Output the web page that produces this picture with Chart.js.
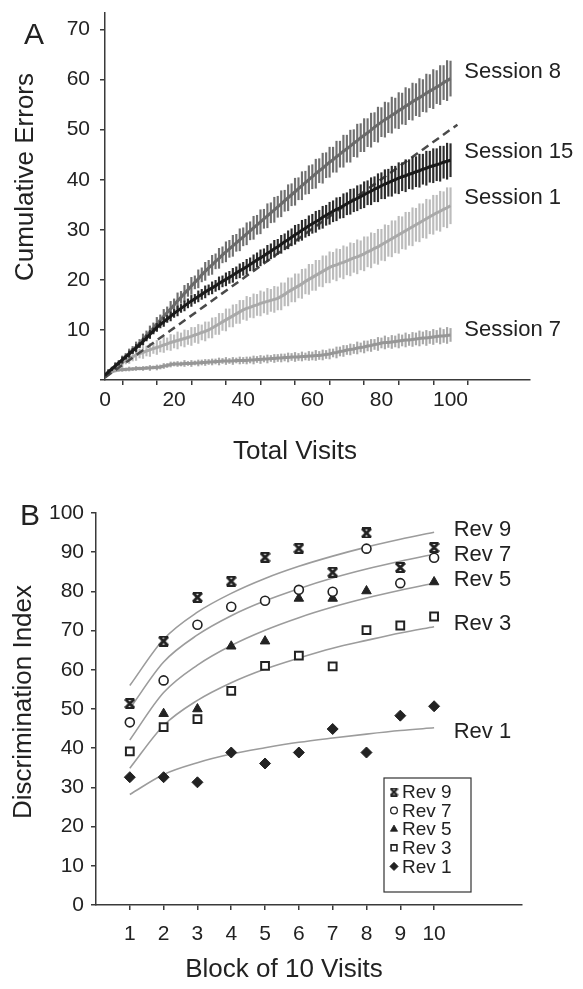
<!DOCTYPE html>
<html><head><meta charset="utf-8">
<script src="https://cdn.jsdelivr.net/npm/chart.js@4.4.1/dist/chart.umd.min.js"></script>
<style>
html,body{margin:0;padding:0;background:#fff;}
#wrap{position:relative;width:583px;height:989px;overflow:hidden;background:#fff}
#cA{position:absolute;left:0;top:0;width:583px;height:480px}
#cB{position:absolute;left:0;top:480px;width:583px;height:509px}
</style></head><body>
<div id="wrap"><canvas id="cA" width="583" height="480"></canvas><canvas id="cB" width="583" height="509"></canvas></div>
<script>
// ---------- Panel A data ----------
const visits = [0,1,2,3,4,5,6,7,8,9,10,11,12,13,14,15,16,17,18,19,20,21,22,23,24,25,26,27,28,29,30,31,32,33,34,35,36,37,38,39,40,41,42,43,44,45,46,47,48,49,50,51,52,53,54,55,56,57,58,59,60,61,62,63,64,65,66,67,68,69,70,71,72,73,74,75,76,77,78,79,80,81,82,83,84,85,86,87,88,89,90,91,92,93,94,95,96,97,98,99,100];
const xTicksA = [0,10,20,30,40,50,60,70,80,90,100];
const xTickLabelsA = [0,20,40,60,80,100];
const yTicksA = [0,10,20,30,40,50,60,70];
const yTickLabelsA = [10,20,30,40,50,60,70];

const s8Mean = [1.0,1.6,2.2,2.8,3.4,4.0,4.7,5.3,6.0,6.6,7.3,
8.1,8.9,9.6,10.4,11.2,12.0,12.7,13.5,14.2,15.0,
15.8,16.5,17.3,18.0,18.8,19.5,20.2,21.0,21.7,22.4,
23.0,23.7,24.3,25.0,25.6,26.2,26.8,27.4,28.0,28.6,
29.2,29.8,30.4,31.0,31.6,32.2,32.8,33.4,34.0,34.6,
35.2,35.8,36.4,37.0,37.6,38.2,38.8,39.4,40.0,40.6,
41.2,41.8,42.3,42.9,43.5,44.0,44.6,45.1,45.7,46.2,
46.7,47.3,47.8,48.4,48.9,49.4,49.9,50.5,51.0,51.5,
52.0,52.4,52.9,53.3,53.8,54.2,54.7,55.1,55.6,56.0,
56.4,56.8,57.3,57.7,58.1,58.5,58.9,59.4,59.8,60.2];
const s8Err = [0.2,0.5,0.4,0.7,0.5,0.8,0.6,0.9,0.7,1.0,0.8,
1.1,0.9,1.2,1.0,1.3,1.0,1.4,1.1,1.5,1.2,
1.6,1.2,1.6,1.3,1.7,1.3,1.8,1.4,1.8,1.5,
1.9,1.5,2.0,1.6,2.0,1.7,2.1,1.7,2.2,1.8,
2.2,1.8,2.3,1.9,2.4,1.9,2.4,2.0,2.5,2.1,
2.6,2.1,2.6,2.2,2.7,2.2,2.8,2.3,2.8,2.4,
2.9,2.4,3.0,2.5,3.0,2.5,3.1,2.6,3.2,2.7,
3.2,2.7,3.3,2.8,3.3,2.8,3.4,2.9,3.5,2.9,
3.5,3.0,3.6,3.0,3.6,3.1,3.7,3.1,3.7,3.2,
3.8,3.2,3.8,3.3,3.9,3.3,3.9,3.4,4.0,3.5];

const s15Mean = [1.0,1.6,2.2,2.8,3.4,4.0,4.6,5.2,5.8,6.4,7.0,
7.7,8.4,9.1,9.8,10.5,11.1,11.6,12.2,12.7,13.3,
13.8,14.3,14.8,15.3,15.8,16.2,16.7,17.1,17.6,18.0,
18.4,18.8,19.3,19.7,20.1,20.5,20.9,21.4,21.8,22.2,
22.6,23.1,23.5,24.0,24.4,24.8,25.3,25.7,26.2,26.6,
27.1,27.6,28.0,28.5,29.0,29.4,29.9,30.3,30.8,31.2,
31.6,32.0,32.5,32.9,33.3,33.7,34.1,34.4,34.8,35.2,
35.6,35.9,36.3,36.6,37.0,37.4,37.7,38.1,38.4,38.8,
39.1,39.4,39.7,40.0,40.3,40.6,40.8,41.1,41.3,41.6,
41.8,42.1,42.3,42.6,42.8,43.0,43.2,43.5,43.7,43.9];
const s15Err = [0.2,0.4,0.3,0.5,0.4,0.6,0.4,0.6,0.5,0.7,0.5,
0.7,0.6,0.8,0.6,0.8,0.7,0.9,0.7,0.9,0.8,
1.0,0.8,1.0,0.9,1.1,0.9,1.1,1.0,1.2,1.0,
1.2,1.1,1.3,1.1,1.3,1.2,1.4,1.2,1.4,1.3,
1.5,1.3,1.5,1.4,1.6,1.4,1.6,1.5,1.7,1.5,
1.8,1.6,1.8,1.7,1.9,1.7,2.0,1.8,2.0,1.9,
2.1,1.9,2.2,2.0,2.2,2.1,2.3,2.1,2.4,2.2,
2.5,2.3,2.5,2.4,2.6,2.4,2.7,2.5,2.8,2.6,
2.9,2.7,3.0,2.7,3.1,2.8,3.2,2.9,3.2,3.0,
3.3,3.0,3.4,3.1,3.4,3.2,3.5,3.2,3.6,3.3];

const s1Mean = [1.0,1.5,2.0,2.5,3.0,3.5,3.9,4.3,4.6,5.0,5.3,
5.5,5.8,6.0,6.3,6.5,6.7,7.0,7.2,7.5,7.7,
7.9,8.1,8.3,8.5,8.7,9.0,9.2,9.5,9.7,10.0,
10.4,10.8,11.2,11.6,12.0,12.4,12.8,13.2,13.6,14.0,
14.3,14.5,14.8,15.0,15.3,15.5,15.7,15.9,16.1,16.3,
16.7,17.1,17.6,18.0,18.4,18.8,19.2,19.7,20.1,20.5,
20.9,21.3,21.7,22.1,22.5,22.8,23.0,23.3,23.5,23.8,
24.1,24.4,24.6,24.9,25.2,25.6,25.9,26.3,26.6,27.0,
27.4,27.8,28.2,28.6,29.0,29.4,29.8,30.2,30.6,31.0,
31.4,31.8,32.2,32.6,33.0,33.4,33.7,34.1,34.4,34.8];
const s1Err = [0.2,0.5,0.4,0.7,0.6,0.9,0.7,1.0,0.8,1.1,0.9,
1.2,1.0,1.3,1.0,1.4,1.1,1.5,1.2,1.6,1.3,
1.7,1.3,1.7,1.4,1.8,1.5,1.9,1.5,1.9,1.6,
2.0,1.7,2.1,1.7,2.2,1.8,2.2,1.9,2.3,1.9,
2.4,2.0,2.4,2.1,2.5,2.1,2.6,2.2,2.6,2.3,
2.7,2.3,2.8,2.4,2.8,2.4,2.9,2.5,3.0,2.6,
3.0,2.6,3.1,2.7,3.1,2.7,3.2,2.8,3.3,2.8,
3.3,2.9,3.4,2.9,3.4,3.0,3.5,3.0,3.5,3.1,
3.6,3.1,3.6,3.2,3.7,3.2,3.7,3.3,3.8,3.3,
3.8,3.4,3.9,3.4,3.9,3.5,4.0,3.5,4.0,3.6];

const s7Mean = [1.0,1.3,1.6,1.9,2.0,2.1,2.1,2.2,2.2,2.3,2.3,
2.3,2.4,2.4,2.5,2.5,2.6,2.8,2.9,3.1,3.2,
3.2,3.2,3.3,3.3,3.3,3.4,3.4,3.5,3.5,3.6,
3.6,3.7,3.7,3.8,3.8,3.8,3.8,3.9,3.9,3.9,
3.9,4.0,4.0,4.1,4.1,4.2,4.2,4.3,4.3,4.4,
4.4,4.5,4.5,4.6,4.6,4.6,4.7,4.7,4.8,4.8,
4.9,4.9,5.0,5.1,5.2,5.4,5.5,5.7,5.8,6.0,
6.1,6.2,6.4,6.5,6.6,6.8,6.9,7.1,7.2,7.4,
7.5,7.5,7.6,7.7,7.8,7.9,8.0,8.0,8.1,8.2,
8.3,8.4,8.4,8.5,8.6,8.7,8.8,8.8,8.9,9.0];
const s7Err = [0.1,0.3,0.2,0.3,0.2,0.4,0.3,0.4,0.3,0.4,0.3,
0.4,0.3,0.5,0.3,0.5,0.4,0.5,0.4,0.5,0.4,
0.5,0.4,0.6,0.4,0.6,0.4,0.6,0.5,0.6,0.5,
0.6,0.5,0.7,0.5,0.7,0.5,0.7,0.5,0.7,0.6,
0.7,0.6,0.8,0.6,0.8,0.6,0.8,0.6,0.8,0.7,
0.8,0.7,0.9,0.7,0.9,0.7,0.9,0.7,0.9,0.8,
1.0,0.8,1.0,0.8,1.0,0.8,1.1,0.9,1.1,0.9,
1.1,0.9,1.2,0.9,1.2,1.0,1.2,1.0,1.3,1.0,
1.3,1.0,1.3,1.1,1.4,1.1,1.4,1.1,1.4,1.2,
1.5,1.2,1.5,1.2,1.5,1.2,1.6,1.3,1.6,1.3];

const chanceX = [0, 102];
const chanceY = [0.5, 51];

const sessionNames = ['Session 8','Session 15','Session 1','Session 7'];
const sessionLabelY = [61.5, 45.5, 36.3, 10.0];
const sessionLabelX = 104;

// ---------- Panel B data ----------
const blocks = [1,2,3,4,5,6,7,8,9,10];
const yTicksB = [0,10,20,30,40,50,60,70,80,90,100];
const revNames = ['Rev 9','Rev 7','Rev 5','Rev 3','Rev 1'];
const rev9 = [51.4, 67.3, 78.5, 82.6, 88.7, 91.0, 84.9, 94.9, 86.1, 91.2];
const rev7 = [46.6, 57.3, 71.5, 76.1, 77.6, 80.4, 79.9, 90.9, 82.1, 88.6];
const rev5 = [null, 48.8, 50.0, 66.0, 67.3, 78.2, 78.2, 80.1, null, 82.4];
const rev3 = [39.2, 45.4, 47.4, 54.6, 61.0, 63.6, 60.9, 70.1, 71.3, 73.6];
const rev1 = [32.6, 32.6, 31.3, 38.9, 36.1, 38.9, 44.9, 38.9, 48.3, 50.7];
const fit9 = [56.0, 67.8, 74.7, 79.5, 83.3, 86.4, 89.0, 91.3, 93.3, 95.1];
const fit7 = [50.1, 62.0, 68.9, 73.8, 77.6, 80.7, 83.4, 85.7, 87.7, 89.5];
const fit5 = [42.1, 54.2, 61.2, 66.2, 70.1, 73.3, 76.0, 78.3, 80.3, 82.1];
const fit3 = [34.9, 45.8, 52.2, 56.7, 60.2, 63.0, 65.5, 67.5, 69.4, 71.0];
const fit1 = [28.2, 33.3, 36.3, 38.5, 40.1, 41.5, 42.6, 43.6, 44.5, 45.2];
const revLabelY = [95.7, 89.3, 82.9, 71.6, 44.1];
const revLabelX = 10.58;

// ---------- helpers ----------
const FONT = '"Liberation Sans", Arial, Helvetica, sans-serif';
const INK = '#222';
const AX = '#3a3a3a';
const pts = (xs, ys) => ys.map((v, i) => ({x: xs[i], y: v}));
const bars = (mean, err) => mean.map((m, i) => ({x: visits[i], y: [m - err[i], m + err[i]]}));

function lineDS(label, mean, color, order) {
  return {type:'line', label, data: pts(visits, mean), borderColor: color, borderWidth: 3,
    pointRadius: 0, tension: 0, order};
}
function barDS(label, mean, err, color, order) {
  return {type:'bar', label, data: bars(mean, err), backgroundColor: color, borderWidth: 0,
    barThickness: 1.5, grouped: false, order};
}
function makeHourglass(size) {
  const c = document.createElement('canvas');
  c.width = size; c.height = size;
  const g = c.getContext('2d');
  g.strokeStyle = '#222'; g.lineCap = 'butt';
  g.lineWidth = size * 0.26;
  g.beginPath(); g.moveTo(1, 1); g.lineTo(size - 1, size - 1);
  g.moveTo(size - 1, 1); g.lineTo(1, size - 1); g.stroke();
  g.lineWidth = size * 0.18;
  g.beginPath(); g.moveTo(1, size * 0.1); g.lineTo(size - 1, size * 0.1);
  g.moveTo(1, size * 0.9); g.lineTo(size - 1, size * 0.9); g.stroke();
  return c;
}
const hourglass = makeHourglass(11);
const hourglassSmall = makeHourglass(9);

// ---------- Panel A ----------
const textA = {
  id: 'textA',
  afterDraw(chart) {
    const ctx = chart.ctx, xs = chart.scales.x, ys = chart.scales.y;
    ctx.save();
    ctx.fillStyle = INK; ctx.textBaseline = 'middle'; ctx.textAlign = 'center';
    ctx.font = '30px ' + FONT; ctx.fillText('A', 34, 36);
    ctx.font = '26px ' + FONT; ctx.fillText('Total Visits', 295, 452);
    ctx.save(); ctx.translate(26, 177); ctx.rotate(-Math.PI / 2);
    ctx.fillText('Cumulative Errors', 0, 0); ctx.restore();
    ctx.font = '22px ' + FONT; ctx.textAlign = 'left';
    sessionNames.forEach((n, i) => ctx.fillText(n, xs.getPixelForValue(sessionLabelX), ys.getPixelForValue(sessionLabelY[i])));
    ctx.restore();
  }
};

new Chart(document.getElementById('cA'), {
  type: 'line',
  data: { datasets: [
    lineDS('Session 15', s15Mean, '#1a1a1a', 0),
    barDS('Session 15 SEM', s15Mean, s15Err, '#2c2c2c', 1),
    {type:'line', label:'Chance', data: pts(chanceX, chanceY), borderColor:'#4a4a4a', borderWidth:2.5,
      borderDash:[8,5], pointRadius:0, order:2},
    lineDS('Session 8', s8Mean, '#6a6a6a', 3),
    barDS('Session 8 SEM', s8Mean, s8Err, '#707070', 4),
    lineDS('Session 1', s1Mean, '#a9a9a9', 5),
    barDS('Session 1 SEM', s1Mean, s1Err, '#bcbcbc', 6),
    lineDS('Session 7', s7Mean, '#969696', 7),
    barDS('Session 7 SEM', s7Mean, s7Err, '#a8a8a8', 8)
  ]},
  options: {
    responsive: false, animation: false, devicePixelRatio: 1,
    layout: { padding: { top: 13, right: 53, left: 0, bottom: 0 } },
    plugins: { legend: { display: false }, tooltip: { enabled: false } },
    scales: {
      x: {
        type: 'linear', min: 0, max: 123, offset: false,
        afterFit(s) { s.height = 100; },
        afterBuildTicks(s) { s.ticks = xTicksA.map(v => ({value: v})); },
        ticks: { autoSkip: false, maxRotation: 0, color: INK, padding: 3,
          font: { family: FONT, size: 21 },
          callback: v => xTickLabelsA.includes(v) ? String(v) : '' },
        grid: { drawOnChartArea: false, drawTicks: true, tickLength: 5, color: AX, lineWidth: 1.5 },
        border: { display: true, color: AX, width: 1.5 }
      },
      y: {
        type: 'linear', min: 0, max: 73.3,
        afterFit(s) { s.width = 105; s.paddingTop = 0; s.paddingBottom = 0; },
        afterBuildTicks(s) { s.ticks = yTicksA.map(v => ({value: v})); },
        ticks: { autoSkip: false, color: INK, padding: 10,
          font: { family: FONT, size: 21 },
          callback: v => yTickLabelsA.includes(v) ? String(v) : '' },
        grid: { drawOnChartArea: false, drawTicks: true, tickLength: 5, color: AX, lineWidth: 1.5 },
        border: { display: true, color: AX, width: 1.5 }
      }
    }
  },
  plugins: [textA]
});

// ---------- Panel B ----------
const markerStyles = [
  {pointStyle: hourglass, legendStyle: hourglassSmall, radius:5.5, borderWidth:1, bg:'#222'},
  {pointStyle:'circle', radius:4.5, borderWidth:1.6, bg:'#fff'},
  {pointStyle:'triangle', radius:5.5, borderWidth:1, bg:'#222'},
  {pointStyle:'rect', radius:5.5, borderWidth:2, bg:'#fff'},
  {pointStyle:'rectRot', radius:5.5, borderWidth:1, bg:'#222'}
];
const revData = [rev9, rev7, rev5, rev3, rev1];
const fitData = [fit9, fit7, fit5, fit3, fit1];

const dsB = [];
revData.forEach((arr, i) => {
  const m = markerStyles[i];
  dsB.push({type:'line', label: revNames[i], data: pts(blocks, arr), showLine:false,
    pointStyle: m.pointStyle, pointRadius: m.radius, pointBorderWidth: m.borderWidth,
    pointBackgroundColor: m.bg, pointBorderColor: '#222', order: i});
});
fitData.forEach((arr, i) => {
  dsB.push({type:'line', label: revNames[i] + ' fit', data: pts(blocks, arr), borderColor:'#9c9c9c',
    borderWidth: 1.6, pointRadius: 0, cubicInterpolationMode:'monotone', order: 10 + i});
});

const textB = {
  id: 'textB',
  afterDraw(chart) {
    const ctx = chart.ctx, xs = chart.scales.x, ys = chart.scales.y;
    ctx.save();
    ctx.fillStyle = INK; ctx.textBaseline = 'middle'; ctx.textAlign = 'center';
    ctx.font = '30px ' + FONT; ctx.fillText('B', 30, 37);
    ctx.font = '26px ' + FONT; ctx.fillText('Block of 10 Visits', 284, 490);
    ctx.save(); ctx.translate(24, 222); ctx.rotate(-Math.PI / 2);
    ctx.fillText('Discrimination Index', 0, 0); ctx.restore();
    ctx.font = '22px ' + FONT; ctx.textAlign = 'left';
    revNames.forEach((n, i) => ctx.fillText(n, xs.getPixelForValue(revLabelX), ys.getPixelForValue(revLabelY[i])));
    // legend box
    const bx = 384, by = 298, bw = 87, bh = 114;
    ctx.fillStyle = '#fff'; ctx.fillRect(bx, by, bw, bh);
    ctx.strokeStyle = '#333'; ctx.lineWidth = 1.2; ctx.strokeRect(bx, by, bw, bh);
    ctx.font = '19px ' + FONT;
    revNames.forEach((n, i) => {
      const y = by + 14 + i * 18.6;
      const m = markerStyles[i];
      ctx.fillStyle = m.bg; ctx.strokeStyle = '#222'; ctx.lineWidth = m.borderWidth * 0.8;
      Chart.helpers.drawPoint(ctx, {pointStyle: m.legendStyle || m.pointStyle, radius: m.radius * 0.75,
        borderWidth: m.borderWidth * 0.8, rotation: 0}, bx + 10, y);
      ctx.fillStyle = INK; ctx.fillText(n, bx + 18, y + 1);
    });
    ctx.restore();
  }
};

new Chart(document.getElementById('cB'), {
  type: 'line',
  data: { datasets: dsB },
  options: {
    responsive: false, animation: false, devicePixelRatio: 1,
    layout: { padding: { top: 33, right: 61, left: 0, bottom: 0 } },
    plugins: { legend: { display: false }, tooltip: { enabled: false } },
    scales: {
      x: {
        type: 'linear', min: 0, max: 12.6, offset: false,
        afterFit(s) { s.height = 84; },
        afterBuildTicks(s) { s.ticks = blocks.map(v => ({value: v})); },
        ticks: { autoSkip: false, maxRotation: 0, color: INK, padding: 12,
          font: { family: FONT, size: 21 }, callback: v => String(v) },
        grid: { drawOnChartArea: false, drawTicks: true, tickLength: 5, color: AX, lineWidth: 1.5 },
        border: { display: true, color: AX, width: 1.5 }
      },
      y: {
        type: 'linear', min: 0, max: 100,
        afterFit(s) { s.width = 96; s.paddingTop = 0; s.paddingBottom = 0; },
        afterBuildTicks(s) { s.ticks = yTicksB.map(v => ({value: v})); },
        ticks: { autoSkip: false, color: INK, padding: 7, font: { family: FONT, size: 21 } },
        grid: { drawOnChartArea: false, drawTicks: true, tickLength: 5, color: AX, lineWidth: 1.5 },
        border: { display: true, color: AX, width: 1.5 }
      }
    }
  },
  plugins: [textB]
});
</script>
</body></html>
